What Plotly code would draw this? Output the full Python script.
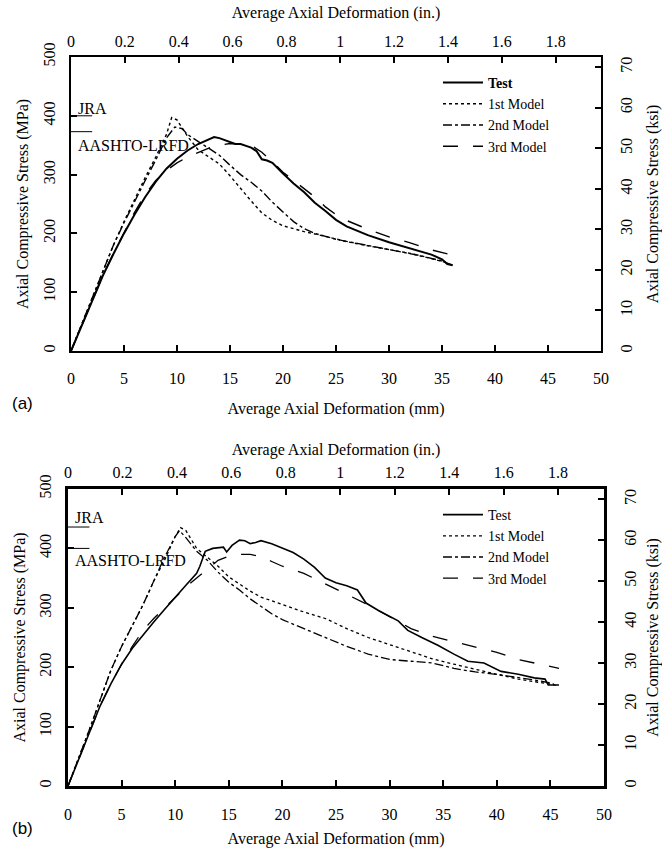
import plotly.graph_objects as go

# ---------------- data (mm, MPa) ----------------
a_test_x = [0, 1, 2, 3, 4, 5, 6, 7, 8, 9, 10, 11, 12, 13, 13.5, 14, 15, 15.5, 16, 17, 17.5, 18, 18.5, 19, 20, 21, 22, 23, 24, 25, 26, 27, 28, 30, 32, 34, 35, 35.5, 36]
a_test_y = [0, 43, 88, 128, 165, 200, 232, 262, 288, 310, 327, 341, 352, 360, 364, 362, 356, 352, 352, 346, 340, 326, 324, 320, 302, 285, 270, 252, 238, 223, 212, 204, 197, 185, 174, 164, 156, 148, 146]

a_m1_x = [0, 1, 2, 3, 4, 5, 6, 7, 8, 9, 9.5, 10, 11, 12, 13, 14, 15, 16, 17, 18, 19, 20, 22, 24, 26, 28, 30, 32, 34, 35.5]
a_m1_y = [0, 45, 92, 138, 180, 220, 258, 295, 330, 368, 397, 393, 365, 342, 330, 318, 298, 276, 255, 235, 222, 213, 203, 195, 186, 179, 172, 166, 157, 150]

a_m2_x = [0, 1, 2, 3, 4, 5, 6, 7, 8, 9, 9.8, 10.5, 11, 12, 13, 14, 15, 16, 17, 18, 19, 20, 21, 22, 23, 24, 25, 27, 29, 31, 33, 35, 36]
a_m2_y = [0, 45, 92, 138, 180, 218, 255, 290, 325, 362, 381, 378, 368, 356, 345, 333, 316, 300, 287, 272, 253, 236, 220, 208, 200, 195, 190, 183, 176, 170, 162, 153, 146]

a_m3_x = [0, 1, 2, 3, 4, 5, 6, 7, 8, 9, 10, 11, 12, 13, 14, 15, 16, 17, 18, 19, 20, 21, 22, 23, 24, 25, 26, 27, 28, 30, 32, 34, 36]
a_m3_y = [0, 43, 86, 128, 166, 202, 236, 266, 290, 307, 320, 330, 338, 345, 350, 353, 352, 350, 338, 322, 304, 290, 276, 262, 245, 232, 222, 214, 207, 194, 184, 172, 163]

b_test_x = [0, 1, 2, 3, 4, 5, 6, 7, 8, 9, 10, 11, 12, 12.3, 12.8, 13.5, 14.5, 14.8, 15.3, 16, 16.5, 17, 17.5, 18, 19, 20, 21, 22, 23, 24, 25, 26, 27, 27.8, 29, 30.8, 31.7, 33, 34.5, 36, 37.3, 38.8, 40.4, 42, 43.5, 44.5, 44.8, 45.8]
b_test_y = [0, 45, 92, 135, 172, 205, 232, 255, 276, 297, 318, 338, 358, 370, 395, 400, 402, 394, 405, 414, 413, 408, 410, 413, 408, 400, 393, 382, 368, 350, 342, 337, 330, 308, 295, 278, 262, 250, 237, 222, 210, 207, 193, 188, 182, 180, 170, 170]

b_m1_x = [0, 1, 2, 3, 4, 5, 6, 7, 8, 9, 10, 10.5, 11, 12, 13, 14, 15, 16, 17, 18, 20, 22, 24, 26, 28, 30, 32, 34, 36, 38, 40, 42, 44, 45.5]
b_m1_y = [0, 47, 95, 145, 195, 235, 270, 305, 345, 380, 420, 435, 430, 400, 385, 370, 352, 340, 328, 318, 305, 293, 282, 265, 250, 238, 226, 214, 205, 196, 188, 180, 175, 170]

b_m2_x = [0, 1, 2, 3, 4, 5, 6, 7, 8, 9, 10, 10.4, 11, 12, 13, 14, 15, 16, 17, 18, 19, 20, 22, 24, 26, 28, 30, 32, 34, 36, 38, 40, 42, 44, 45.3]
b_m2_y = [0, 47, 95, 145, 195, 235, 270, 305, 345, 385, 420, 430, 418, 395, 380, 360, 343, 330, 315, 302, 290, 280, 265, 250, 235, 222, 213, 210, 207, 198, 192, 188, 183, 177, 172]

b_m3_x = [0, 1, 2, 3, 4, 5, 6, 7, 8, 9, 10, 11, 12, 13, 14, 15, 16, 17, 18, 19, 20, 22, 24, 26, 28, 30, 32, 34, 36, 38, 40, 42, 44, 45.8]
b_m3_y = [0, 45, 92, 135, 172, 205, 235, 262, 282, 300, 318, 335, 350, 365, 380, 387, 390, 390, 386, 378, 370, 358, 340, 322, 305, 285, 265, 252, 243, 233, 225, 213, 205, 198]

# code limit marks (MPa) drawn at the left edge
code_x = [0, 2]
a_jra = 400
a_aashto = 373
b_jra = 436
b_aashto = 400

series_names = ["Test", "1st Model", "2nd Model", "3rd Model"]
dashes = ["solid", "dot", "dashdot", "longdash"]

mm_ticks = list(range(0, 51, 5))
in_ticks = [0, 0.2, 0.4, 0.6, 0.8, 1.0, 1.2, 1.4, 1.6, 1.8]
in_text = ["0", "0.2", "0.4", "0.6", "0.8", "1", "1.2", "1.4", "1.6", "1.8"]
mpa_ticks = [0, 100, 200, 300, 400, 500]
ksi_ticks = [0, 10, 20, 30, 40, 50, 60, 70]

MM_PER_IN = 25.4
MPA_PER_KSI = 6.895

FONT = "Liberation Serif"

# ---------------- geometry ----------------
W, H = 662, 848
L, R, T, B = 68, 58, 57, 62
pw, ph = W - L - R, H - T - B

def px2x(px):
    return (px - L) / pw

def px2y(py):
    return (H - B - py) / ph

fig = go.Figure()

panels = [
    dict(xs=[a_test_x, a_m1_x, a_m2_x, a_m3_x], ys=[a_test_y, a_m1_y, a_m2_y, a_m3_y],
         xa="x", ya="y", legend="legend", widths=[2.0, 1.4, 1.4, 1.4],
         names=["<b>Test</b>", "1st Model", "2nd Model", "3rd Model"], jra=a_jra, aashto=a_aashto),
    dict(xs=[b_test_x, b_m1_x, b_m2_x, b_m3_x], ys=[b_test_y, b_m1_y, b_m2_y, b_m3_y],
         xa="x3", ya="y3", legend="legend2", widths=[1.6, 1.3, 1.3, 1.3],
         names=series_names, jra=b_jra, aashto=b_aashto),
]

for p in panels:
    for xs, ys, nm, d, w in zip(p["xs"], p["ys"], p["names"], dashes, p["widths"]):
        fig.add_trace(go.Scatter(x=xs, y=ys, mode="lines", name=nm,
                                 line=dict(color="black", width=w, dash=d),
                                 xaxis=p["xa"], yaxis=p["ya"], legend=p["legend"]))
    for v in (p["jra"], p["aashto"]):
        fig.add_trace(go.Scatter(x=code_x, y=[v, v], mode="lines", showlegend=False,
                                 line=dict(color="black", width=1),
                                 xaxis=p["xa"], yaxis=p["ya"]))

# invisible traces so the secondary axes are drawn
fig.add_trace(go.Scatter(x=[None], y=[None], xaxis="x2", yaxis="y2", showlegend=False))
fig.add_trace(go.Scatter(x=[None], y=[None], xaxis="x4", yaxis="y4", showlegend=False))

tickfont = dict(family=FONT, size=16, color="black")
titlefont = dict(family=FONT, size=16, color="black")

def xbottom(anchor, dom, lw, standoff):
    return dict(anchor=anchor, domain=dom, range=[0, 50], tickvals=mm_ticks, automargin=False,
                ticks="inside", ticklen=6, tickwidth=1.5, tickcolor="black",
                showline=True, linecolor="black", linewidth=lw, showgrid=False,
                zeroline=False, tickfont=tickfont, ticklabelstandoff=12,
                title=dict(text="Average Axial Deformation (mm)", font=titlefont, standoff=standoff))

def xtop(over, anchor, lw, standoff):
    return dict(overlaying=over, anchor=anchor, side="top", range=[0, 50 / MM_PER_IN],
                automargin=False,
                tickvals=in_ticks, ticktext=in_text, ticks="inside", ticklen=6, tickwidth=1.5,
                tickcolor="black", showline=True, linecolor="black", linewidth=lw,
                showgrid=False, zeroline=False, tickfont=tickfont, ticklabelstandoff=2,
                title=dict(text="Average Axial Deformation (in.)", font=titlefont, standoff=standoff))

def yleft(anchor, dom, lw):
    return dict(anchor=anchor, domain=dom, range=[0, 500], tickvals=mpa_ticks, automargin=False,
                ticks="inside", ticklen=6, tickwidth=1.5, tickcolor="black",
                showline=True, linecolor="black", linewidth=lw, showgrid=False,
                zeroline=False, tickangle=-90, tickfont=tickfont, ticklabelstandoff=8,
                title=dict(text="Axial Compressive Stress (MPa)", font=titlefont, standoff=8))

def yright(over, anchor, lw):
    return dict(overlaying=over, anchor=anchor, side="right", range=[0, 500 / MPA_PER_KSI],
                automargin=False,
                tickvals=ksi_ticks, ticks="inside", ticklen=6, tickwidth=1.5, tickcolor="black",
                showline=True, linecolor="black", linewidth=lw, showgrid=False,
                zeroline=False, tickangle=-90, tickfont=tickfont, ticklabelstandoff=10,
                title=dict(text="Axial Compressive Stress (ksi)", font=titlefont, standoff=15))

ann = []
for xa, ya, jy, ay in [("x", "y", 413, 350), ("x3", "y3", 452, 380)]:
    ann.append(dict(x=0.5, y=jy, xref=xa, yref=ya, text="JRA", showarrow=False,
                    xanchor="left", yanchor="middle", font=dict(family=FONT, size=16, color="black")))
    ann.append(dict(x=0.5, y=ay, xref=xa, yref=ya, text="AASHTO-LRFD", showarrow=False,
                    xanchor="left", yanchor="middle", font=dict(family=FONT, size=16, color="black")))
for lab, (px, py) in [("(a)", (22, 403)), ("(b)", (22, 829))]:
    ann.append(dict(x=px2x(px), y=px2y(py), xref="paper", yref="paper", text=lab,
                    showarrow=False, xanchor="center", yanchor="middle",
                    font=dict(family="Liberation Sans", size=17, color="black")))

dom_ax = [px2x(71), px2x(601)]
dom_bx = [0.0, 1.0]
dom_ay = [px2y(351), 1.0]
dom_by = [0.0, px2y(489)]

legend_common = dict(bgcolor="rgba(0,0,0,0)", borderwidth=0, xanchor="left", yanchor="top",
                     font=dict(family=FONT, size=14, color="black"), itemwidth=40,
                     tracegroupgap=0)

fig.update_layout(
    width=W, height=H,
    margin=dict(l=L, r=R, t=T, b=B, autoexpand=False),
    paper_bgcolor="white", plot_bgcolor="white",
    showlegend=True,
    xaxis=xbottom("y", dom_ax, 2, 17), xaxis2=xtop("x", "y", 2, 10),
    yaxis=yleft("x", dom_ay, 2), yaxis2=yright("y", "x", 2),
    xaxis3=xbottom("y3", dom_bx, 2.5, 12), xaxis4=xtop("x3", "y3", 2.5, 5),
    yaxis3=yleft("x3", dom_by, 2.5), yaxis4=yright("y3", "x3", 2.5),
    legend=dict(x=px2x(438), y=px2y(67), **legend_common),
    legend2=dict(x=px2x(438), y=px2y(499), **legend_common),
    annotations=ann,
)

fig.write_html("out.html")
